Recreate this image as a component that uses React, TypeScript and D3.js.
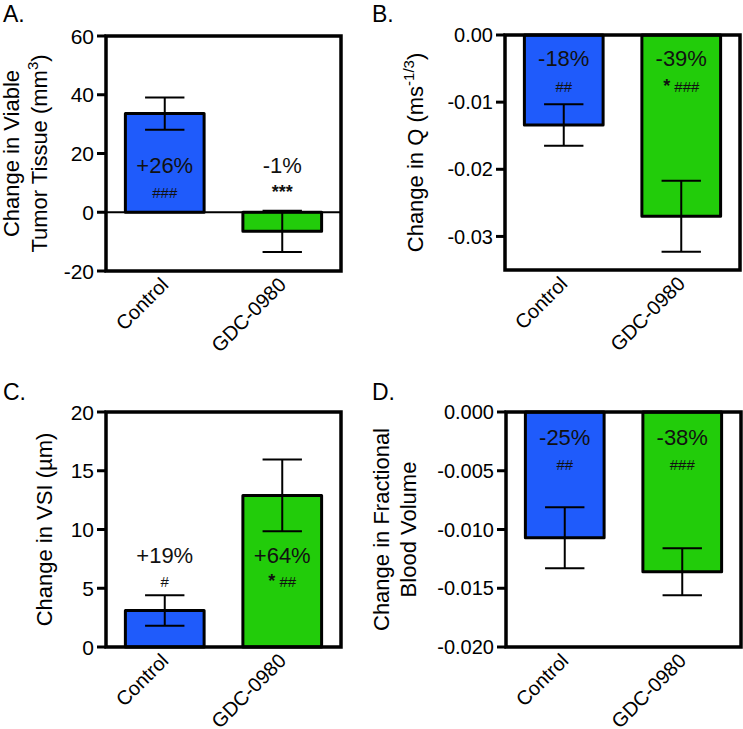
import React from "react";
import * as d3 from "d3";

// ---------- data ----------
const categories = ["Control", "GDC-0980"];

const viableMeans = [33.6, -6.5];
const viableErrs = [5.5, 7.0];
const viablePct = ["+26%", "-1%"];
const viableSig = ["###", "***"];
const viableTicks = [60, 40, 20, 0, -20];
const viableTickLabels = ["60", "40", "20", "0", "-20"];

const qMeans = [-0.0134, -0.027];
const qErrs = [0.0031, 0.0053];
const qPct = ["-18%", "-39%"];
const qSig = ["##", "* ###"];
const qTicks = [0, -0.01, -0.02, -0.03];
const qTickLabels = ["0.00", "-0.01", "-0.02", "-0.03"];

const vsiMeans = [3.1, 12.9];
const vsiErrs = [1.3, 3.05];
const vsiPct = ["+19%", "+64%"];
const vsiSig = ["#", "* ##"];
const vsiTicks = [20, 15, 10, 5, 0];
const vsiTickLabels = ["20", "15", "10", "5", "0"];

const fbvMeans = [-0.0107, -0.0136];
const fbvErrs = [0.0026, 0.002];
const fbvPct = ["-25%", "-38%"];
const fbvSig = ["##", "###"];
const fbvTicks = [0, -0.005, -0.01, -0.015, -0.02];
const fbvTickLabels = ["0.000", "-0.005", "-0.010", "-0.015", "-0.020"];

const barColors = ["#1F5BFB", "#22CC0A"];

// ---------- layout ----------
const FONT = "'Liberation Sans', Arial, Helvetica, sans-serif";
const PLOT_W = 235;
const PLOT_H = 235;

type Panel = {
  letter: string;
  letterX: number;
  letterY: number;
  ox: number;
  oy: number;
  domain: [number, number];
  means: number[];
  errs: number[];
  pct: string[];
  sig: string[];
  ticks: number[];
  tickLabels: string[];
  tickFont: number;
  titleLines: React.ReactNode[];
  titleX: number[];
  pctOff: number;
  sigOff: number;
  zeroLine: boolean;
};

const panels: Panel[] = [
  {
    letter: "A.",
    letterX: 3,
    letterY: 22,
    ox: 106,
    oy: 36,
    domain: [-20, 60],
    means: viableMeans,
    errs: viableErrs,
    pct: viablePct,
    sig: viableSig,
    ticks: viableTicks,
    tickLabels: viableTickLabels,
    tickFont: 21,
    titleLines: [
      <>Change in Viable</>,
      <>
        Tumor Tissue (mm
        <tspan dy={-9} fontSize={15}>
          3
        </tspan>
        <tspan dy={9}>)</tspan>
      </>,
    ],
    titleX: [19, 47],
    pctOff: 137,
    sigOff: 162,
    zeroLine: true,
  },
  {
    letter: "B.",
    letterX: 372,
    letterY: 22,
    ox: 505,
    oy: 35,
    domain: [-0.035, 0],
    means: qMeans,
    errs: qErrs,
    pct: qPct,
    sig: qSig,
    ticks: qTicks,
    tickLabels: qTickLabels,
    tickFont: 20,
    titleLines: [
      <>
        Change in Q (ms
        <tspan dy={-9} fontSize={15}>
          -1/3
        </tspan>
        <tspan dy={9}>)</tspan>
      </>,
    ],
    titleX: [423],
    pctOff: 31,
    sigOff: 57,
    zeroLine: false,
  },
  {
    letter: "C.",
    letterX: 3,
    letterY: 400,
    ox: 106,
    oy: 412,
    domain: [0, 20],
    means: vsiMeans,
    errs: vsiErrs,
    pct: vsiPct,
    sig: vsiSig,
    ticks: vsiTicks,
    tickLabels: vsiTickLabels,
    tickFont: 21,
    titleLines: [<>Change in VSI (µm)</>],
    titleX: [52],
    pctOff: 151,
    sigOff: 175,
    zeroLine: false,
  },
  {
    letter: "D.",
    letterX: 372,
    letterY: 400,
    ox: 506,
    oy: 412,
    domain: [-0.02, 0],
    means: fbvMeans,
    errs: fbvErrs,
    pct: fbvPct,
    sig: fbvSig,
    ticks: fbvTicks,
    tickLabels: fbvTickLabels,
    tickFont: 20,
    titleLines: [<>Change in Fractional</>, <>Blood Volume</>],
    titleX: [389, 416],
    pctOff: 33,
    sigOff: 58,
    zeroLine: false,
  },
];

function SigText({ s }: { s: string }) {
  // asterisks render larger/bolder than hashes in the reference
  const runs = s.match(/\*+|#+|\s+/g) || [];
  return (
    <>
      {runs.map((r, i) =>
        r.startsWith("*") ? (
          <tspan key={i} fontSize={18} fontWeight="bold">
            {r}
          </tspan>
        ) : (
          <tspan key={i} fontSize={15}>
            {r}
          </tspan>
        )
      )}
    </>
  );
}

function PanelView({ p }: { p: Panel }) {
  const x = d3
    .scaleBand<string>()
    .domain(categories)
    .range([0, PLOT_W])
    .paddingInner(0.33)
    .paddingOuter(0.165);
  const y = d3.scaleLinear().domain(p.domain).range([PLOT_H, 0]);
  const bw = x.bandwidth();
  const y0 = y(Math.max(p.domain[0], Math.min(p.domain[1], 0)));
  const cy = p.oy + PLOT_H / 2;

  return (
    <g>
      <text x={p.letterX} y={p.letterY} fontSize={23} fontFamily={FONT}>
        {p.letter}
      </text>
      {p.titleLines.map((line, i) => (
        <text
          key={i}
          transform={`translate(${p.titleX[i]},${cy}) rotate(-90)`}
          textAnchor="middle"
          fontSize={22}
          fontFamily={FONT}
        >
          {line}
        </text>
      ))}
      <g transform={`translate(${p.ox},${p.oy})`}>
        {categories.map((c, i) => {
          const v = p.means[i];
          const yv = y(v);
          return (
            <rect
              key={c}
              x={x(c)}
              y={Math.min(yv, y0)}
              width={bw}
              height={Math.abs(yv - y0)}
              fill={barColors[i]}
              stroke="#000"
              strokeWidth={3}
              strokeLinejoin="round"
            />
          );
        })}
        {categories.map((c, i) => {
          const cx = (x(c) as number) + bw / 2;
          const hi = y(p.means[i] + p.errs[i]);
          const lo = y(p.means[i] - p.errs[i]);
          return (
            <g key={c} stroke="#000" strokeWidth={2}>
              <line x1={cx} x2={cx} y1={hi} y2={lo} />
              <line x1={cx - bw / 4} x2={cx + bw / 4} y1={hi} y2={hi} />
              <line x1={cx - bw / 4} x2={cx + bw / 4} y1={lo} y2={lo} />
            </g>
          );
        })}
        {p.zeroLine && (
          <line x1={0} x2={PLOT_W} y1={y(0)} y2={y(0)} stroke="#000" strokeWidth={2} />
        )}
        <rect
          x={0}
          y={0}
          width={PLOT_W}
          height={PLOT_H}
          fill="none"
          stroke="#000"
          strokeWidth={3.5}
        />
        {p.ticks.map((t, i) => (
          <g key={i}>
            <line x1={-9} x2={0} y1={y(t)} y2={y(t)} stroke="#000" strokeWidth={3} />
            <text
              x={-12}
              y={y(t)}
              dy="0.36em"
              textAnchor="end"
              fontSize={p.tickFont}
              fontFamily={FONT}
            >
              {p.tickLabels[i]}
            </text>
          </g>
        ))}
        {categories.map((c) => {
          const cx = (x(c) as number) + bw / 2;
          return (
            <text
              key={c}
              transform={`translate(${cx + 5},${PLOT_H + 15}) rotate(-45)`}
              textAnchor="end"
              fontSize={20}
              fontFamily={FONT}
            >
              {c}
            </text>
          );
        })}
        {categories.map((c, i) => {
          const cx = (x(c) as number) + bw / 2;
          return (
            <g key={c} fontFamily={FONT} fill="#111" textAnchor="middle">
              <text x={cx} y={p.pctOff} fontSize={22}>
                {p.pct[i]}
              </text>
              <text x={cx} y={p.sigOff}>
                <SigText s={p.sig[i]} />
              </text>
            </g>
          );
        })}
      </g>
    </g>
  );
}

export default function App() {
  return (
    <div style={{ position: "absolute", left: 0, top: 0 }}>
      <svg width={743} height={729} style={{ display: "block", background: "#fff" }}>
        <rect width={743} height={729} fill="#fff" />
        {panels.map((p) => (
          <PanelView key={p.letter} p={p} />
        ))}
      </svg>
    </div>
  );
}
